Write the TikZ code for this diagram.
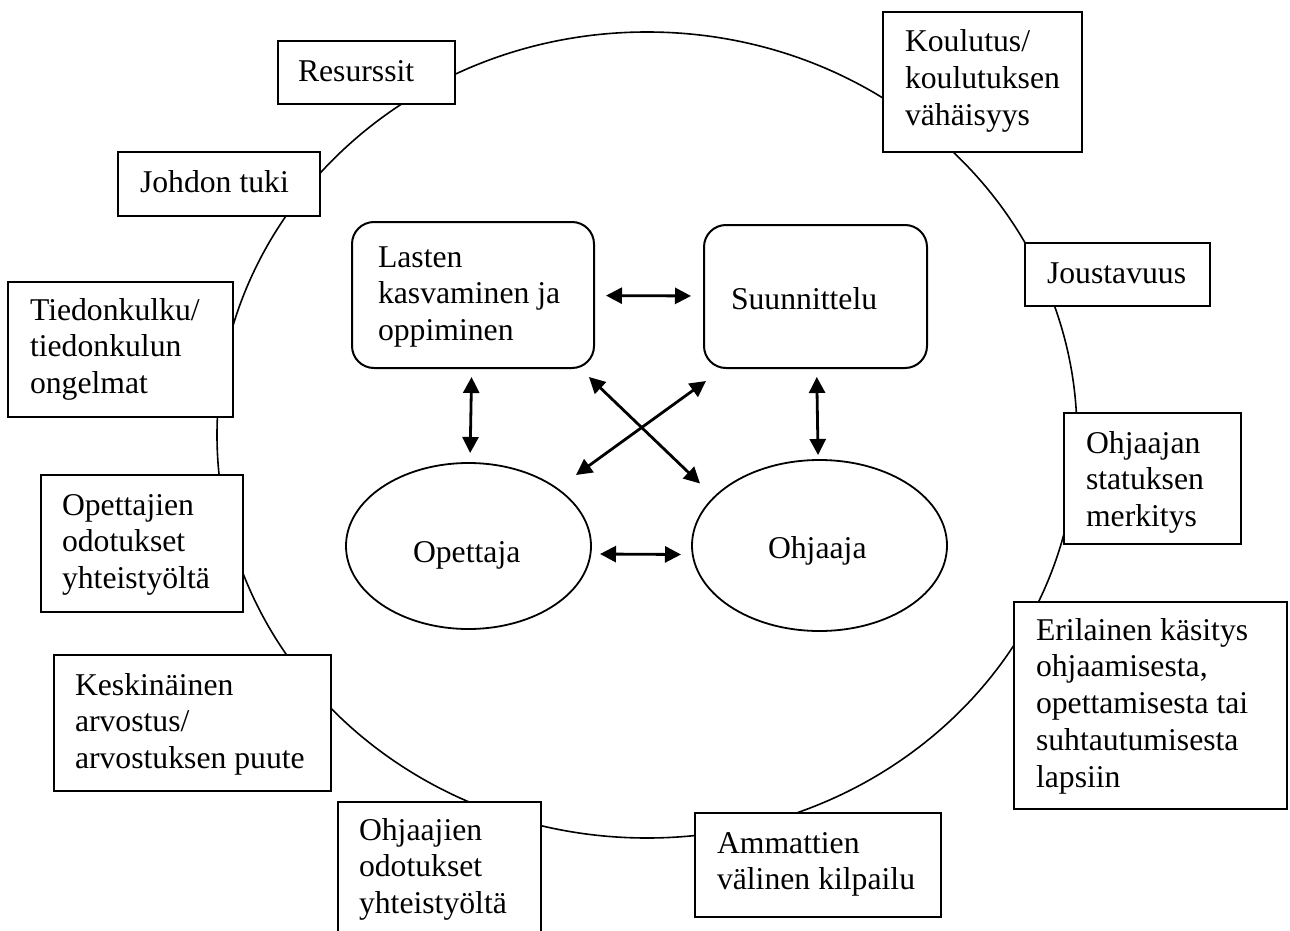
\documentclass[tikz,border=0pt]{standalone}
\usepackage{fontspec}
\setmainfont{Liberation Serif}
\usetikzlibrary{shapes.geometric,arrows.meta}
\begin{document}
\begin{tikzpicture}[x=1pt,y=-1pt,
  box/.style={draw, fill=white, line width=2.2pt, rectangle, inner sep=0pt, outer sep=0pt},
  rbox/.style={draw, fill=white, line width=2pt, rectangle, rounded corners=22pt, inner sep=0pt, outer sep=0pt},
  oval/.style={draw, ellipse, line width=1.8pt, inner sep=0pt, outer sep=0pt},
  ring/.style={draw, ellipse, line width=1.6pt, inner sep=0pt, outer sep=0pt},
  txt/.style={anchor=north west, inner sep=0pt, outer sep=0pt, align=left, font=\fontsize{31.7pt}{36.8pt}\selectfont},
  link/.style={line width=2.8pt, {Triangle[length=16pt,width=16pt]}-{Triangle[length=16pt,width=16pt]}}
]
\def\asc{25.76}
\useasboundingbox (0,0) rectangle (1290,931);
\clip (0,0) rectangle (1290,931);

% outer ring
\node[ring, minimum width=860pt, minimum height=806pt] (rim) at (647,435) {};

% outer boxes
\node[box, minimum width=177pt, minimum height=63pt] (res) at (366.5,72.5) {};
\node[box, minimum width=199pt, minimum height=140pt] (kou) at (982.5,82) {};
\node[box, minimum width=202pt, minimum height=64pt] (joh) at (219,184) {};
\node[box, minimum width=185pt, minimum height=63pt] (jou) at (1117.5,274.5) {};
\node[box, minimum width=225pt, minimum height=135pt] (tie) at (120.5,349.5) {};
\node[box, minimum width=202pt, minimum height=137pt] (opo) at (142,543.5) {};
\node[box, minimum width=177pt, minimum height=131pt] (ohs) at (1152.5,478.5) {};
\node[box, minimum width=273pt, minimum height=207pt] (eri) at (1150.5,705.5) {};
\node[box, minimum width=277pt, minimum height=136pt] (kes) at (192.5,723) {};
\node[box, minimum width=203pt, minimum height=143pt] (ohj) at (439.5,873.5) {};
\node[box, minimum width=246pt, minimum height=104pt] (amm) at (818,865) {};

% outer texts
\node[txt] (res-t) at (298,{82-\asc}) {\strut Resurssit};
\node[txt] (kou-t) at (905,{52-\asc}) {\strut Koulutus/\\koulutuksen\\vähäisyys};
\node[txt] (joh-t) at (140,{192-\asc}) {\strut Johdon tuki};
\node[txt] (jou-t) at (1047,{283-\asc}) {\strut Joustavuus};
\node[txt] (tie-t) at (30,{320-\asc}) {\strut Tiedonkulku/\\tiedonkulun\\ongelmat};
\node[txt] (opo-t) at (62,{515-\asc}) {\strut Opettajien\\odotukset\\yhteistyöltä};
\node[txt] (ohs-t) at (1086,{453-\asc}) {\strut Ohjaajan\\statuksen\\merkitys};
\node[txt] (eri-t) at (1036,{640-\asc}) {\strut Erilainen käsitys\\ohjaamisesta,\\opettamisesta tai\\suhtautumisesta\\lapsiin};
\node[txt] (kes-t) at (75,{695-\asc}) {\strut Keskinäinen\\arvostus/\\arvostuksen puute};
\node[txt] (ohj-t) at (359,{840-\asc}) {\strut Ohjaajien\\odotukset\\yhteistyöltä};
\node[txt] (amm-t) at (717,{853-\asc}) {\strut Ammattien\\välinen kilpailu};

% inner nodes
\node[rbox, minimum width=242pt, minimum height=146pt] (las) at (473,295) {};
\node[rbox, minimum width=223pt, minimum height=143pt] (suu) at (815.5,296.5) {};
\node[oval, minimum width=245pt, minimum height=166pt] (ope) at (468.5,546) {};
\node[oval, minimum width=255pt, minimum height=171pt] (ohja) at (819.5,545.5) {};

\node[txt] (las-t) at (378,{267-\asc}) {\strut Lasten\\kasvaminen ja\\oppiminen};
\node[txt] (suu-t) at (731,{309-\asc}) {\strut Suunnittelu};
\node[txt] (ope-t) at (413,{562-\asc}) {\strut Opettaja};
\node[txt] (ohja-t) at (768,{558-\asc}) {\strut Ohjaaja};

% arrows
\draw[link, shorten <=12pt, shorten >=13pt] (las) -- (suu);
\draw[link, shorten <=9pt, shorten >=10pt] (las) -- (ope);
\draw[link, shorten <=9pt, shorten >=5pt] (suu) -- (ohja);
\draw[link] ([shift={(9,8)}]ope.east) -- ([shift={(-11,9)}]ohja.west);
\draw[link] ([shift={(-5,9)}]las.south east) -- ([shift={(8,-62)}]ohja.west);
\draw[link] ([shift={(2,13)}]suu.south west) -- ([shift={(-15,-71)}]ope.east);
\end{tikzpicture}
\end{document}
